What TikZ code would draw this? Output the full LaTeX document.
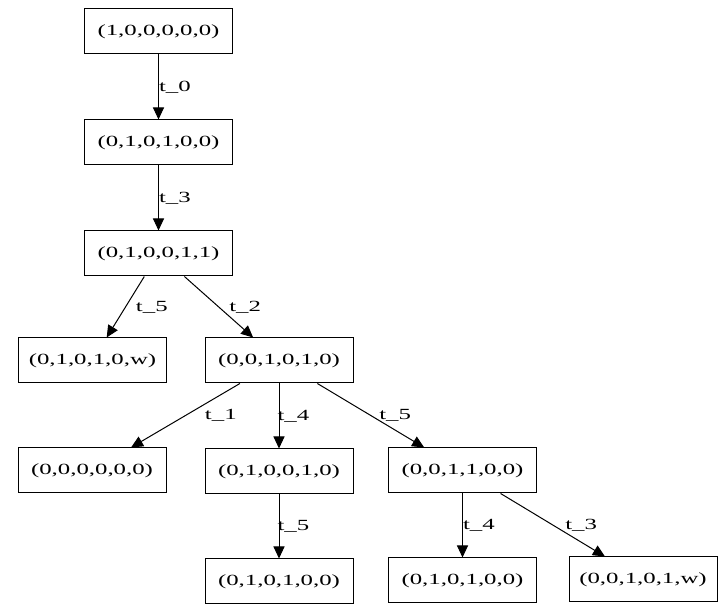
\documentclass[tikz,border=0pt]{standalone}
\usepackage{fontspec}
\setmainfont{Liberation Serif}
\usetikzlibrary{arrows.meta, positioning}
\newcommand{\wide}[1]{\scalebox{1.6}[1]{#1}}
\tikzset{%
  every path/.style={line width=1pt},
    edge/.style={%
        -{Triangle[length=12pt, width=11pt]},
    },
    marking/.style={%
        rectangle,
        draw=black,
        minimum width=148pt,
        minimum height=45pt,
        font=\fontsize{15.5}{18}\selectfont,
        text centered,
    },
    trans/.style={%
        anchor=west,
        inner sep=0pt,
        font=\fontsize{15.5}{18}\selectfont,
    }
}

\begin{document}
\begin{tikzpicture}[x=1pt, y=1pt, node distance=65pt]
  \useasboundingbox (0,0) rectangle (719,604);

  \node [marking] at (158.5,572.5) (m0) {\wide{(1,0,0,0,0,0)}};
  \node [marking, below=of m0] (m1) {\wide{(0,1,0,1,0,0)}};
  \node [marking, below=of m1] (m2) {\wide{(0,1,0,0,1,1)}};

  \node [marking] at (92.5,243.5) (m3) {\wide{(0,1,0,1,0,w)}};
  \node [marking] at (279,243.5) (m4) {\wide{(0,0,1,0,1,0)}};

  \node [marking] at (92,133.5) (m5) {\wide{(0,0,0,0,0,0)}};
  \node [marking, below=of m4] (m6) {\wide{(0,1,0,0,1,0)}};
  \node [marking] at (462.5,133.5) (m7) {\wide{(0,0,1,1,0,0)}};

  \node [marking, below=64pt of m6] (m8) {\wide{(0,1,0,1,0,0)}};
  \node [marking, below=64pt of m7] (m9) {\wide{(0,1,0,1,0,0)}};
  \node [marking] at (643,24.5) (m10) {\wide{(0,0,1,0,1,w)}};

  \draw[edge] (m0) -- node[trans, midway] {\wide{t\_0}} (m1);
  \draw[edge] (m1) -- node[trans, midway] {\wide{t\_3}} (m2);
  \draw[edge] (m2) -- node[trans, midway, xshift=10pt] {\wide{t\_5}} (m3);
  \draw[edge] (m2) -- node[trans, midway, xshift=10pt] {\wide{t\_2}} (m4);

  \draw[edge] (m4) -- node[trans, midway, xshift=19pt] {\wide{t\_1}} (m5);
  \draw[edge] (m4) -- node[trans, midway, xshift=-2pt] {\wide{t\_4}} (m6);
  \draw[edge] (m4) -- node[trans, midway, xshift=8pt] {\wide{t\_5}} (m7);

  \draw[edge] (m6) -- node[trans, midway, xshift=-2pt] {\wide{t\_5}} (m8);
  \draw[edge] (m7) -- node[trans, midway] {\wide{t\_4}} (m9);
  \draw[edge] (m7) -- node[trans, midway, xshift=12pt] {\wide{t\_3}} (m10);
\end{tikzpicture}
\end{document}
